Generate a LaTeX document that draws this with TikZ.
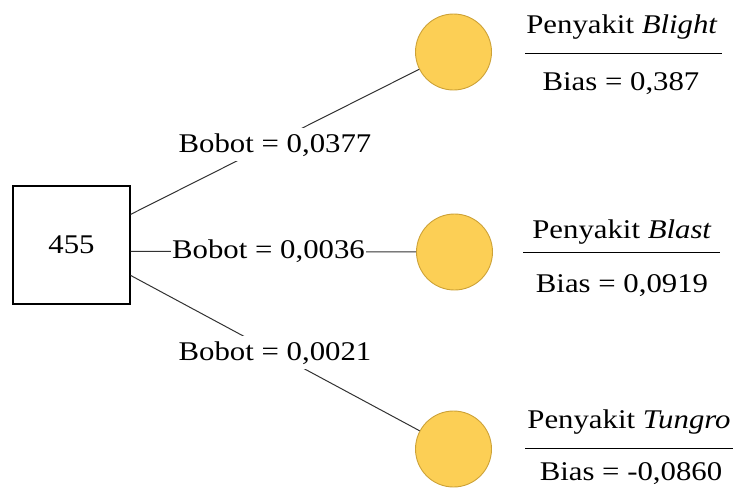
\documentclass[tikz,border=0pt]{standalone}
\usepackage{fontspec}
\setmainfont{Liberation Serif}[FakeStretch=1.14]
\usetikzlibrary{calc}
\definecolor{nodefill}{RGB}{252,207,85}
\definecolor{nodeedge}{RGB}{205,162,55}
\definecolor{wire}{RGB}{50,50,50}
\begin{document}
\begin{tikzpicture}[x=1pt,y=-1pt,
  every node/.style={font=\fontsize{27}{30}\selectfont},
  inbox/.style={draw=black,line width=1.2pt,minimum width=117pt,minimum height=118pt,inner sep=0pt},
  outnode/.style={circle,draw=nodeedge,fill=nodefill,line width=0.9pt,minimum size=76pt,inner sep=0pt},
  wireline/.style={draw=wire,line width=1pt},
  weightlabel/.style={fill=white,inner xsep=1pt,inner ysep=5pt,anchor=base},
  caption/.style={anchor=base,inner sep=0pt},
  rule/.style={draw=black,line width=1pt}]
\useasboundingbox (0,0) rectangle (741,493);

% input node and the three output nodes
\node[inbox] (in) at (71.5,245) {455};
\node[outnode] (o1) at (453.5,52) {};
\node[outnode] (o2) at (454.5,252) {};
\node[outnode] (o3) at (453.5,449) {};

% where the connectors leave the input box
\coordinate (s1) at ($(in.north east)+(0,29)$);
\coordinate (s2) at ($(in.north east)+(0,66)$);
\coordinate (s3) at ($(in.north east)+(0,90)$);

% connectors
\draw[wireline] (s1) -- (o1);
\draw[wireline] (s2) -- (o2);
\draw[wireline] (s3) -- (o3);

% weights on the connectors
\node[weightlabel] (w1) at (275,152) {Bobot = 0,0377};
\node[weightlabel] (w2) at (268.5,258) {Bobot = 0,0036};
\node[weightlabel] (w3) at (275,360) {Bobot = 0,0021};

% disease names and biases
\node[caption] (n1) at (622,33) {Penyakit \textit{Blight}};
\draw[rule] (525,53) -- (722,53);
\node[caption] (b1) at (621,90) {Bias = 0,387};

\node[caption] (n2) at (622,238) {Penyakit \textit{Blast}};
\draw[rule] (523,252) -- (720,252);
\node[caption] (b2) at (622,292) {Bias = 0,0919};

\node[caption] (n3) at (629,428) {Penyakit \textit{Tungro}};
\draw[rule] (525,448) -- (733,448);
\node[caption] (b3) at (631,480) {Bias = -0,0860};
\end{tikzpicture}
\end{document}
